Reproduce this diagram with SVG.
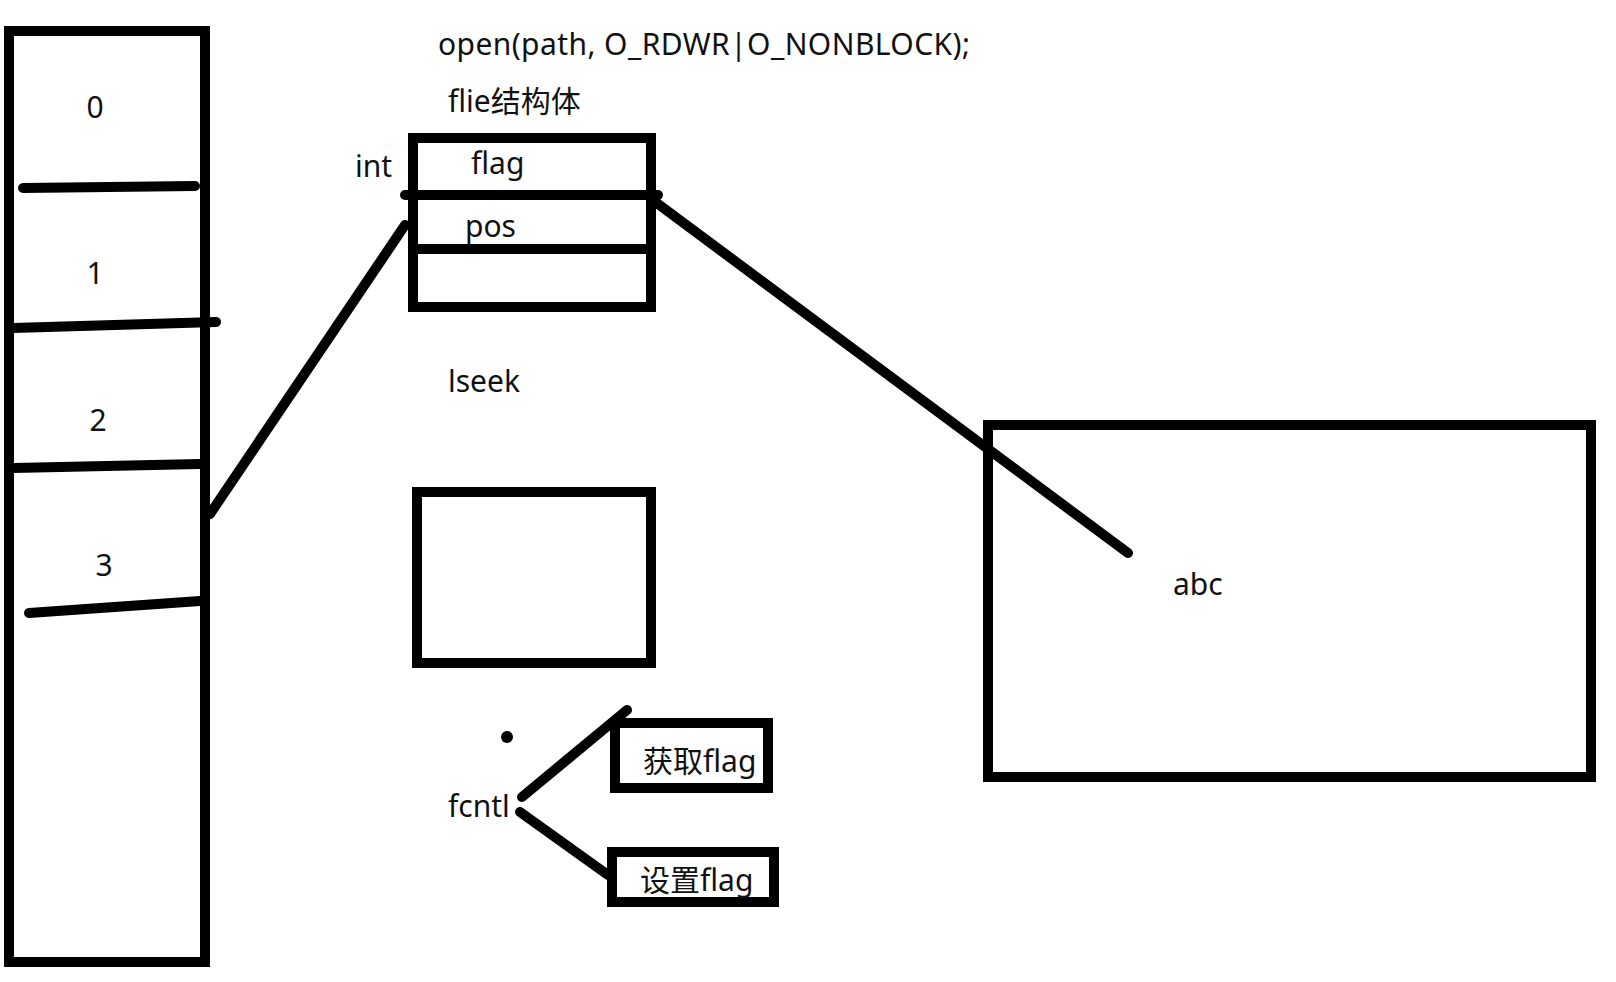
<svg xmlns="http://www.w3.org/2000/svg" width="1616" height="982" viewBox="0 0 1616 982">
<style>
.s{fill:none;stroke:#000;stroke-width:10}
.l{fill:none;stroke:#000;stroke-width:10;stroke-linecap:round}
.t{font-family:"Noto Sans","Noto Sans CJK SC",sans-serif;font-size:30px;fill:#111}
</style>
<rect width="1616" height="982" fill="#fff"/>
<g id="fd-table">
<rect class="s" x="9" y="31" width="196" height="931"/>
<path class="l" d="M23 188 L195 186"/>
<path class="l" d="M13 328 L216 322"/>
<path class="l" d="M13 468 L200 464"/>
<path class="l" d="M29 613 L200 601"/>
<text class="t" x="95" y="118" text-anchor="middle">0</text>
<text class="t" x="95" y="284" text-anchor="middle">1</text>
<text class="t" x="98" y="431" text-anchor="middle">2</text>
<text class="t" x="104" y="576" text-anchor="middle">3</text>
</g>
<g id="title">
<text class="t" x="438" y="55" textLength="532">open(path, O_RDWR|O_NONBLOCK);</text>
<text class="t" x="448" y="112">flie结构体</text>
</g>
<g id="file-struct">
<rect class="s" x="413" y="138" width="238" height="169"/>
<path class="l" d="M405 195 L658 195"/>
<path class="s" d="M413 249 L651 249"/>
<text class="t" x="355" y="177">int</text>
<text class="t" x="471" y="174">flag</text>
<text class="t" x="465" y="237">pos</text>
</g>
<g id="lseek"><text class="t" x="448" y="392">lseek</text></g>
<g id="small-box"><rect class="s" x="417" y="492" width="234" height="171"/></g>
<g id="file-data">
<rect class="s" x="988" y="425" width="603" height="352"/>
<text class="t" x="1173" y="595">abc</text>
</g>
<g id="fcntl">
<circle cx="507" cy="737" r="6" fill="#000"/>
<text class="t" x="448" y="817">fcntl</text>
</g>
<g id="get-flag">
<rect class="s" x="615" y="723" width="153" height="65"/>
<text class="t" x="643" y="772">获取flag</text>
</g>
<g id="set-flag">
<rect class="s" x="612" y="852" width="162" height="50"/>
<text class="t" x="640" y="891">设置flag</text>
</g>
<g id="connectors">
<path class="l" d="M210 514 L405 225"/>
<path class="l" d="M654 201 L1128 553"/>
<path class="l" d="M522 797 L627 710"/>
<path class="l" d="M520 812 L608 875"/>
</g>
</svg>
